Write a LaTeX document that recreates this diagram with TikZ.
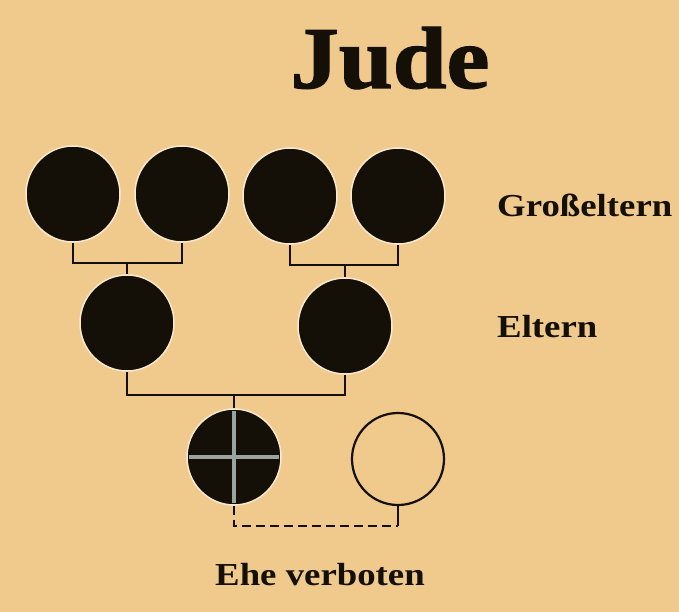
\documentclass[tikz,border=0pt]{standalone}
\usepackage{fontspec}
\setmainfont{Liberation Serif}
\newfontfamily\labelfont[FakeStretch=1.15]{Liberation Serif}
\newfontfamily\titlefont[FakeStretch=1.1, FakeBold=1.5]{Liberation Serif}
\usetikzlibrary{shapes.geometric}
\definecolor{paper}{HTML}{F0C98C}
\definecolor{ink}{HTML}{141008}
\definecolor{crossgrey}{HTML}{9AA3A0}
\begin{document}
\begin{tikzpicture}[x=1pt,y=-1pt,
  person/.style={ellipse, minimum width=94pt, minimum height=96pt, inner sep=0pt,
    fill=ink, draw=paper!40!white, line width=1.5pt},
  emptyperson/.style={ellipse, minimum width=92pt, minimum height=92pt, inner sep=0pt,
    draw=ink, line width=2.2pt},
  link/.style={draw=ink, line width=2.5pt},
  forbidden/.style={draw=ink, line width=2pt, dash pattern=on 9pt off 5pt},
  lbl/.style={anchor=west, inner sep=0pt, text=ink, font=\labelfont\bfseries\fontsize{32}{34}\selectfont}]
\fill[paper] (0,0) rectangle (679,612);
\useasboundingbox (0,0) rectangle (679,612);
% title
\node[text=ink, inner sep=0pt, font=\titlefont\bfseries\fontsize{88}{92}\selectfont] (title) at (390,58) {Jude};
% grandparents
\node[person] (g1) at (73,194) {};
\node[person] (g2) at (182,194) {};
\node[person] (g3) at (290,196) {};
\node[person] (g4) at (398,196) {};
% parents
\node[person] (p1) at (127,323) {};
\node[person] (p2) at (345,326) {};
% child and partner
\node[person] (c) at (234,457) {};
\node[emptyperson] (w) at (398,459) {};
\draw[crossgrey, line width=4pt, shorten <=3pt, shorten >=3pt] (c.north) -- (c.south);
\draw[crossgrey, line width=4pt, shorten <=3pt, shorten >=3pt] (c.west) -- (c.east);
% connectors
\coordinate (j1) at (127,263);
\coordinate (j2) at (345,265);
\coordinate (j3) at (234,395);
\coordinate (d2) at (398,526);
\draw[link] (g1.south) |- (j1) -| (g2.south);
\draw[link] (j1) -- (p1.north);
\draw[link] (g3.south) |- (j2) -| (g4.south);
\draw[link] (j2) -- (p2.north);
\draw[link] (p1.south) |- (j3) -| (p2.south);
\draw[link] (j3) -- (c.north);
\draw[forbidden] (c.south) |- (d2);
\draw[link, line width=2pt] (d2) -- (w.south);
% labels
\node[lbl] (lg) at (497,205) {Großeltern};
\node[lbl] (le) at (497,327) {Eltern};
\node[lbl, anchor=center] (lh) at (320,575) {Ehe verboten};
\end{tikzpicture}
\end{document}
